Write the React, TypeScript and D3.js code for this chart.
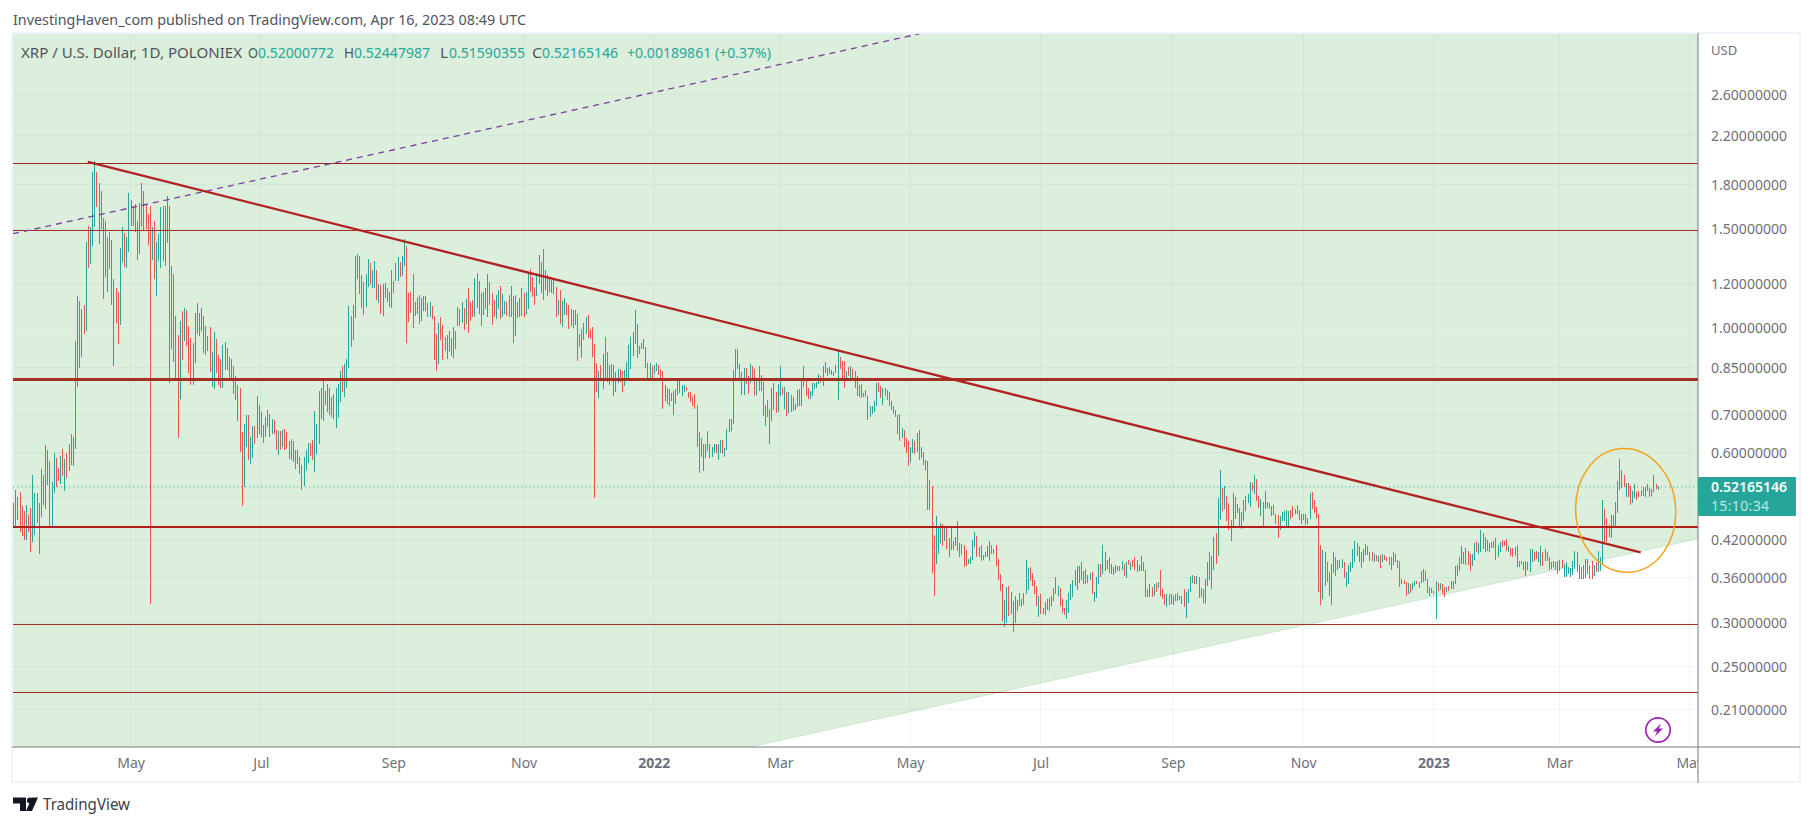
import React, { useEffect, useRef } from 'react';
import * as d3 from 'd3';

type Bar = [number, number, number]; // low, high, 1 = up day

// daily bars, one list per month
const mar21: Bar[] = [[.443,.489,1],[.445,.515,1],[.456,.501,1],[.433,.511,0],[.426,.483,0],[.420,.473,0],[.420,.485,1],[.433,.465,0],[.399,.479,0],[.416,.548,1],[.428,.509,1],[.450,.509,0],[.397,.489,0],[.462,.561,1],[.485,.548,0],[.477,.620,1],[.526,.607,1],[.444,.580,0],[.444,.532,1],[.509,.600,1],[.521,.588,0],[.535,.563,0],[.528,.593,1],[.545,.610,0],[.513,.586,1]];
const apr21: Bar[] = [[.541,.600,0],[.556,.622,1],[.570,.648,0],[.568,.640,1],[.609,.947,1],[.785,1.14,1],[.848,1.115,0],[.889,1.08,1],[.975,1.097,0],[.987,1.42,1],[1.28,1.52,0],[1.30,1.51,1],[1.40,1.89,1],[1.51,1.98,1],[1.64,1.89,0],[1.41,1.81,0],[1.50,1.75,0],[1.125,1.565,0],[1.23,1.55,0],[1.16,1.45,1],[1.27,1.48,0],[1.10,1.43,0],[.856,1.22,1],[1.02,1.175,0],[.936,1.16,0],[1.01,1.385,1],[1.31,1.51,1],[1.285,1.475,0],[1.28,1.45,1],[1.365,1.735,1]];
const may21: Bar[] = [[1.52,1.69,1],[1.52,1.65,0],[1.48,1.66,0],[1.32,1.55,0],[1.355,1.665,1],[1.51,1.81,0],[1.49,1.75,0],[1.50,1.66,0],[1.405,1.595,0],[.323,1.645,0],[1.32,1.51,1],[1.22,1.55,0],[1.14,1.42,1],[1.315,1.47,1],[1.28,1.64,1],[1.315,1.65,0],[1.29,1.65,1],[1.415,1.715,1],[.798,1.65,0],[.917,1.29,1],[.87,1.245,0],[.814,1.05,0],[.637,.971,0],[.747,1.03,1],[.877,1.07,0],[.948,1.085,1],[.928,1.075,0],[.832,1.008,0],[.791,.959,0],[.791,.94,1],[.866,1.062,1]];
const jun21: Bar[] = [[.975,1.105,0],[.967,1.062,1],[.987,1.085,1],[.902,1.05,0],[.895,1.008,0],[.91,.967,1],[.835,1.003,0],[.785,.906,1],[.778,.983,1],[.832,.955,0],[.791,.895,0],[.781,.881,0],[.781,.932,1],[.842,.944,1],[.842,.92,0],[.811,.888,0],[.811,.881,1],[.763,.855,0],[.744,.821,0],[.683,.791,1],[.603,.781,0],[.483,.653,0],[.522,.675,1],[.614,.70,1],[.582,.70,0],[.573,.64,1],[.588,.669,1],[.622,.669,0],[.638,.757,1],[.648,.729,1]];
const jul21: Bar[] = [[.64,.709,0],[.625,.672,0],[.64,.694,1],[.667,.714,1],[.64,.703,0],[.648,.689,1],[.648,.686,0],[.607,.659,0],[.595,.656,1],[.607,.656,0],[.614,.659,1],[.607,.661,0],[.609,.653,0],[.585,.63,1],[.582,.635,0],[.578,.63,0],[.561,.607,0],[.573,.607,1],[.55,.59,0],[.515,.57,0],[.524,.59,1],[.558,.607,1],[.575,.625,1],[.593,.625,0],[.582,.632,0],[.554,.711,1],[.597,.675,1],[.622,.771,1],[.689,.781,1],[.683,.811,1],[.729,.771,0]];
const aug21: Bar[] = [[.709,.795,0],[.70,.781,1],[.694,.753,0],[.689,.763,1],[.664,.781,1],[.692,.795,1],[.738,.838,1],[.768,.855,0],[.753,.863,1],[.781,.881,1],[.848,1.095,1],[.924,1.05,0],[.951,1.10,1],[1.04,1.34,1],[1.22,1.355,1],[1.15,1.34,0],[1.085,1.24,0],[1.055,1.205,1],[1.09,1.245,1],[1.18,1.325,1],[1.19,1.305,0],[1.175,1.265,1],[1.175,1.315,1],[1.12,1.265,0],[1.105,1.195,1],[1.06,1.19,0],[1.05,1.195,1],[1.13,1.20,0],[1.11,1.175,0],[1.09,1.16,0],[1.085,1.265,1]];
const sep21: Bar[] = [[1.155,1.21,1],[1.21,1.305,1],[1.21,1.335,1],[1.23,1.31,0],[1.235,1.34,1],[1.29,1.44,1],[.94,1.40,0],[1.025,1.155,0],[1.065,1.16,0],[1.0,1.245,0],[1.05,1.11,1],[1.06,1.135,1],[1.015,1.145,0],[1.03,1.13,1],[1.07,1.14,1],[1.07,1.14,0],[1.045,1.105,0],[1.045,1.11,1],[1.035,1.095,0],[.877,1.05,0],[.838,.975,0],[.863,1.02,1],[.951,1.045,0],[.877,1.012,0],[.91,.963,0],[.881,.971,1],[.906,.987,0],[.891,.959,0],[.884,1.003,1],[.917,.987,1]];
const oct21: Bar[] = [[1.008,1.09,1],[1.008,1.08,0],[1.02,1.11,1],[.991,1.085,0],[1.015,1.125,1],[.979,1.175,0],[1.03,1.11,0],[1.045,1.12,0],[1.045,1.225,1],[1.085,1.25,0],[1.06,1.21,1],[1.008,1.155,0],[1.055,1.16,1],[1.08,1.175,1],[1.045,1.245,1],[1.10,1.205,0],[1.012,1.155,0],[1.045,1.12,0],[1.035,1.145,1],[1.08,1.17,1],[1.035,1.185,0],[1.045,1.15,1],[1.06,1.115,1],[1.05,1.11,0],[1.045,1.145,1],[1.045,1.185,1],[.94,1.14,0],[.967,1.145,1],[1.04,1.11,1],[1.045,1.13,1],[1.05,1.175,1]];
const nov21: Bar[] = [[1.045,1.155,0],[1.06,1.16,1],[1.08,1.25,1],[1.16,1.27,0],[1.135,1.23,0],[1.10,1.18,0],[1.14,1.25,1],[1.195,1.345,1],[1.155,1.31,0],[1.12,1.38,0],[1.17,1.265,1],[1.14,1.24,0],[1.16,1.22,1],[1.155,1.215,1],[1.15,1.225,0],[1.045,1.18,0],[1.055,1.12,1],[1.015,1.17,0],[1.003,1.115,1],[1.055,1.13,1],[1.055,1.105,0],[.995,1.10,0],[1.008,1.08,1],[.999,1.075,0],[1.012,1.075,1],[.874,1.06,0],[.924,.975,1],[.884,.995,1],[.951,1.02,1],[.975,1.045,1]];
const dec21: Bar[] = [[.959,1.055,0],[.955,.995,0],[.888,1.003,0],[.499,.936,0],[.768,.866,0],[.75,.838,1],[.808,.859,0],[.778,.899,1],[.808,.963,0],[.801,.906,0],[.791,.859,1],[.814,.863,1],[.757,.859,0],[.768,.835,1],[.798,.845,1],[.801,.845,0],[.768,.838,0],[.788,.842,1],[.814,.87,1],[.814,.932,1],[.845,.963,1],[.891,.983,1],[.936,1.075,1],[.884,1.015,0],[.899,.928,1],[.917,.94,0],[.917,.955,1],[.848,.924,0],[.814,.866,0],[.808,.866,1],[.805,.855,0]];
const jan22: Bar[] = [[.828,.859,1],[.838,.866,1],[.825,.859,0],[.814,.845,0],[.717,.838,0],[.741,.791,1],[.732,.781,0],[.726,.778,0],[.741,.766,1],[.70,.771,0],[.732,.778,1],[.76,.808,1],[.766,.805,0],[.757,.791,1],[.768,.791,1],[.771,.785,0],[.75,.768,0],[.738,.768,0],[.726,.753,0],[.717,.763,0],[.615,.729,0],[.552,.653,0],[.59,.638,1],[.556,.622,0],[.588,.622,1],[.604,.656,1],[.588,.622,0],[.59,.614,1],[.60,.622,1],[.60,.622,0],[.582,.622,1]];
const feb22: Bar[] = [[.60,.632,1],[.597,.632,0],[.59,.611,1],[.607,.661,1],[.653,.689,1],[.656,.689,1],[.675,.842,1],[.811,.917,1],[.845,.917,0],[.811,.863,1],[.76,.835,0],[.76,.848,1],[.795,.848,0],[.763,.821,0],[.798,.863,1],[.811,.855,0],[.757,.845,0],[.76,.805,1],[.771,.855,1],[.771,.825,0],[.697,.801,0],[.669,.729,1],[.694,.744,0],[.622,.717,1],[.683,.781,1],[.714,.798,0],[.706,.768,0],[.709,.795,1]];
const mar22: Bar[] = [[.757,.855,1],[.76,.785,0],[.717,.785,1],[.697,.768,0],[.706,.768,1],[.709,.76,0],[.711,.753,1],[.714,.732,0],[.723,.775,1],[.726,.778,0],[.726,.814,1],[.785,.855,0],[.757,.808,0],[.747,.781,0],[.747,.771,1],[.757,.798,1],[.778,.798,1],[.781,.801,1],[.795,.828,1],[.798,.821,0],[.788,.855,1],[.832,.87,1],[.821,.848,1],[.828,.852,1],[.825,.842,1],[.821,.835,1],[.832,.859,1],[.744,.917,1],[.845,.888,0],[.811,.874,0],[.781,.874,0]];
const apr22: Bar[] = [[.811,.838,1],[.821,.852,0],[.811,.855,1],[.811,.845,0],[.781,.838,0],[.757,.821,0],[.753,.791,1],[.75,.795,0],[.753,.766,1],[.753,.775,0],[.686,.757,0],[.694,.726,1],[.703,.726,1],[.709,.741,1],[.726,.798,1],[.768,.801,0],[.75,.788,0],[.729,.781,1],[.757,.781,1],[.744,.775,0],[.726,.768,0],[.714,.741,0],[.703,.726,0],[.694,.714,0],[.648,.70,0],[.63,.703,0],[.638,.664,1],[.614,.659,0],[.60,.638,0],[.568,.63,0]];
const may22: Bar[] = [[.578,.614,1],[.60,.635,1],[.597,.63,0],[.602,.65,1],[.582,.659,0],[.588,.615,1],[.57,.602,0],[.558,.582,0],[.475,.58,0],[.475,.537,1],[.367,.524,0],[.334,.429,0],[.381,.464,1],[.397,.441,1],[.415,.45,1],[.41,.448,0],[.418,.441,1],[.405,.444,0],[.392,.424,1],[.403,.441,0],[.403,.418,1],[.41,.425,1],[.402,.454,0],[.392,.415,1],[.395,.413,0],[.376,.412,0],[.378,.403,0],[.381,.389,1],[.381,.391,1],[.387,.42,1],[.408,.434,1]];
const jun22: Bar[] = [[.392,.427,0],[.392,.408,1],[.386,.412,0],[.387,.395,1],[.391,.40,1],[.392,.41,1],[.386,.418,1],[.397,.412,0],[.397,.405,0],[.378,.412,0],[.357,.389,0],[.341,.365,0],[.302,.351,0],[.294,.328,1],[.299,.347,1],[.308,.348,0],[.31,.34,1],[.288,.327,0],[.299,.334,1],[.314,.328,0],[.32,.338,1],[.319,.33,0],[.322,.338,1],[.336,.387,1],[.342,.375,1],[.355,.376,0],[.348,.367,0],[.337,.357,0],[.32,.348,0],[.306,.334,1]];
const jul22: Bar[] = [[.31,.337,0],[.31,.318,1],[.309,.326,1],[.315,.33,1],[.314,.331,0],[.32,.334,1],[.327,.345,1],[.337,.361,0],[.334,.348,1],[.32,.345,0],[.312,.33,0],[.309,.318,0],[.304,.328,1],[.312,.338,1],[.328,.35,1],[.332,.357,1],[.348,.372,0],[.342,.378,1],[.352,.378,1],[.357,.383,0],[.35,.37,1],[.351,.373,0],[.352,.364,1],[.357,.367,1],[.336,.368,0],[.326,.34,1],[.331,.361,1],[.351,.381,1],[.361,.381,0],[.365,.412,1],[.37,.40,0]];
const aug22: Bar[] = [[.373,.387,0],[.367,.392,0],[.365,.381,1],[.364,.376,1],[.367,.379,1],[.37,.378,0],[.37,.378,0],[.372,.386,1],[.362,.381,0],[.359,.384,1],[.379,.387,0],[.372,.383,1],[.376,.387,0],[.372,.392,0],[.369,.387,1],[.37,.379,1],[.37,.394,1],[.37,.383,0],[.332,.372,0],[.332,.344,0],[.332,.35,1],[.332,.347,0],[.334,.35,1],[.34,.352,0],[.345,.354,1],[.334,.372,0],[.33,.344,0],[.322,.337,0],[.319,.336,1],[.322,.337,0],[.323,.336,1]];
const sep22: Bar[] = [[.322,.334,1],[.327,.336,0],[.327,.338,0],[.328,.334,1],[.323,.334,1],[.319,.344,0],[.305,.34,1],[.324,.344,1],[.34,.361,1],[.352,.364,1],[.35,.362,0],[.35,.362,1],[.331,.361,0],[.332,.345,1],[.324,.344,0],[.323,.358,1],[.348,.383,1],[.357,.399,0],[.344,.394,1],[.372,.425,1],[.381,.432,0],[.394,.499,1],[.458,.558,1],[.473,.519,0],[.477,.524,1],[.454,.503,0],[.437,.489,0],[.418,.456,1],[.444,.509,1],[.458,.501,0]];
const oct22: Bar[] = [[.469,.487,0],[.444,.479,0],[.439,.471,1],[.454,.495,1],[.473,.503,1],[.489,.507,1],[.481,.532,1],[.513,.53,0],[.507,.548,1],[.493,.539,0],[.479,.503,0],[.463,.497,1],[.443,.491,0],[.477,.513,1],[.479,.491,0],[.477,.489,0],[.463,.483,1],[.465,.485,0],[.448,.467,0],[.424,.465,0],[.437,.463,1],[.454,.471,1],[.454,.473,1],[.444,.475,1],[.444,.473,1],[.458,.475,0],[.461,.483,0],[.467,.477,1],[.467,.485,0],[.456,.475,1],[.448,.467,1]];
const nov22: Bar[] = [[.456,.467,0],[.446,.467,1],[.448,.46,0],[.458,.509,1],[.477,.511,0],[.469,.495,0],[.46,.481,0],[.34,.467,0],[.322,.412,0],[.33,.403,1],[.348,.399,0],[.354,.384,0],[.334,.369,0],[.322,.381,1],[.367,.399,1],[.362,.392,0],[.372,.387,1],[.375,.387,1],[.375,.389,1],[.359,.383,0],[.347,.369,1],[.351,.379,1],[.369,.384,1],[.375,.405,1],[.383,.418,1],[.394,.415,0],[.384,.41,1],[.375,.40,0],[.383,.405,1],[.395,.413,1]];
const dec22: Bar[] = [[.395,.41,0],[.386,.399,0],[.386,.399,0],[.384,.397,1],[.386,.395,0],[.383,.394,1],[.375,.395,0],[.383,.397,1],[.387,.395,0],[.386,.391,0],[.379,.391,0],[.372,.391,1],[.379,.399,1],[.384,.397,0],[.375,.387,0],[.347,.386,0],[.35,.358,1],[.35,.357,0],[.334,.354,0],[.337,.352,1],[.338,.351,0],[.342,.352,1],[.348,.355,1],[.35,.355,0],[.345,.354,0],[.352,.37,1],[.354,.373,1],[.355,.37,0],[.338,.358,0],[.334,.347,1],[.338,.345,0]];
const jan23: Bar[] = [[.337,.341,0],[.304,.355,1],[.341,.352,0],[.342,.352,1],[.336,.35,0],[.332,.347,0],[.34,.347,1],[.341,.348,0],[.344,.355,1],[.344,.355,1],[.35,.378,1],[.362,.379,1],[.37,.391,0],[.381,.41,1],[.381,.399,0],[.379,.407,1],[.379,.402,0],[.37,.397,0],[.378,.397,1],[.387,.415,1],[.40,.418,0],[.397,.415,1],[.40,.437,1],[.405,.432,0],[.399,.425,1],[.402,.42,0],[.40,.415,1],[.407,.417,0],[.407,.418,1],[.387,.424,0],[.391,.412,1]];
const feb23: Bar[] = [[.399,.417,1],[.408,.42,0],[.41,.418,0],[.402,.422,0],[.40,.41,1],[.394,.407,0],[.392,.407,0],[.394,.408,0],[.376,.412,0],[.376,.386,0],[.381,.386,0],[.372,.384,1],[.362,.386,1],[.372,.383,0],[.369,.405,1],[.383,.405,1],[.386,.40,0],[.389,.402,0],[.384,.40,1],[.378,.41,1],[.378,.40,0],[.386,.405,1],[.386,.399,0],[.372,.392,0],[.373,.384,1],[.376,.386,1],[.372,.384,0],[.365,.386,1]];
const mar23: Bar[] = [[.37,.387,1],[.375,.387,0],[.361,.381,1],[.361,.383,1],[.365,.376,1],[.361,.375,1],[.364,.386,1],[.373,.402,1],[.369,.399,0],[.358,.379,1],[.358,.376,0],[.358,.379,1],[.359,.389,1],[.365,.389,1],[.358,.379,0],[.358,.386,0],[.362,.379,1],[.369,.384,0],[.369,.402,1],[.37,.392,1],[.381,.495,1],[.416,.477,0],[.416,.46,0],[.425,.446,0],[.424,.465,1],[.444,.465,1],[.444,.491,1],[.469,.535,1],[.515,.585,1],[.519,.558,0],[.522,.548,0]];
const apr23: Bar[] = [[.501,.53,1],[.501,.53,0],[.485,.524,0],[.489,.513,1],[.499,.528,1],[.495,.511,0],[.501,.513,0],[.503,.515,1],[.503,.521,0],[.501,.521,1],[.513,.528,0],[.501,.519,0],[.503,.517,1],[.511,.548,1],[.517,.528,0],[.516,.524,1]];

const months: [string, Bar[]][] = [
  ['2021-03-07', mar21], ['2021-04-01', apr21], ['2021-05-01', may21], ['2021-06-01', jun21],
  ['2021-07-01', jul21], ['2021-08-01', aug21], ['2021-09-01', sep21], ['2021-10-01', oct21],
  ['2021-11-01', nov21], ['2021-12-01', dec21], ['2022-01-01', jan22], ['2022-02-01', feb22],
  ['2022-03-01', mar22], ['2022-04-01', apr22], ['2022-05-01', may22], ['2022-06-01', jun22],
  ['2022-07-01', jul22], ['2022-08-01', aug22], ['2022-09-01', sep22], ['2022-10-01', oct22],
  ['2022-11-01', nov22], ['2022-12-01', dec22], ['2023-01-01', jan23], ['2023-02-01', feb23],
  ['2023-03-01', mar23], ['2023-04-01', apr23],
];

const priceTicks = [2.6, 2.2, 1.8, 1.5, 1.2, 1.0, 0.85, 0.7, 0.6, 0.42, 0.36, 0.3, 0.25, 0.21];
const hiddenGridPrices = [0.5]; // label sits behind the last-price tag
const timeTicks = ['2021-05-01', '2021-07-01', '2021-09-01', '2021-11-01', '2022-01-01', '2022-03-01', '2022-05-01', '2022-07-01', '2022-09-01', '2022-11-01', '2023-01-01', '2023-03-01', '2023-05-01'];
const timeLabels = ['May', 'Jul', 'Sep', 'Nov', '2022', 'Mar', 'May', 'Jul', 'Sep', 'Nov', '2023', 'Mar', 'May'];

// drawn levels and trend lines: [price, stroke width, colour]
const levels: [number, number, string][] = [
  [1.96, 1, '#9c2a22'], [1.49, 1, '#a52a22'], [0.81, 3, '#a33020'],
  [0.443, 2, '#b71c1c'], [0.297, 1, '#a5301f'], [0.225, 1, '#a5301f'],
];
const downTrend: [string, number][] = [['2021-04-11', 1.973], ['2023-04-08', 0.399]];
const dashedTrend: [string, number][] = [['2021-03-07', 1.47], ['2022-05-07', 3.342]];
const supportEdge: [string, number][] = [['2022-02-15', 0.18], ['2023-05-05', 0.422]];
const ringCentre: [string, number] = ['2023-04-01', 0.474];
const lastPrice = 0.52165146;

const FONT = '"Noto Sans", "Open Sans", sans-serif';
const TEAL = '#26a69a';
const RED = '#ef5350';
const GREY = '#6e7079';

const W = 1813;
const H = 826;
const left = 13.1;
const right = 1698;
const top = 33;
const bottom = 747;
const panelRight = 1800;
const panelBottom = 782;

const d = (s: string) => new Date(s + 'T00:00:00Z');
const DAY = 86400000;

export default function App() {
  const ref = useRef<SVGSVGElement>(null);

  useEffect(() => {
    if (!ref.current) return;
    const svg = d3.select(ref.current);
    svg.selectAll('*').remove();

    const x = d3.scaleUtc().domain([d('2021-03-07'), d('2023-05-05')]).range([left, right + 0.3]);
    const y = d3.scaleLog().domain([3.342, 0.18]).range([top, bottom]);
    const snap = (v: number) => Math.round(v) + 0.5; // one device pixel per bar

    const rows = months.flatMap(([start, bars]) =>
      bars.map((b, i) => ({ date: new Date(+d(start) + i * DAY), low: b[0], high: b[1], up: b[2] === 1 }))
    );

    const defs = svg.append('defs');
    defs.append('clipPath').attr('id', 'plot')
      .append('rect').attr('x', left).attr('y', top).attr('width', right - left).attr('height', bottom - top);
    defs.append('clipPath').attr('id', 'timeClip')
      .append('rect').attr('x', left).attr('y', 0).attr('width', right - left).attr('height', panelBottom - bottom);

    const plot = svg.append('g').attr('clip-path', 'url(#plot)');

    // grid
    plot.selectAll('line.hgrid').data([...priceTicks, ...hiddenGridPrices]).join('line').attr('class', 'hgrid')
      .attr('x1', left).attr('x2', right).attr('y1', (v) => y(v)).attr('y2', (v) => y(v))
      .attr('stroke', '#f0f3fa').attr('stroke-width', 1);
    plot.selectAll('line.vgrid').data(timeTicks).join('line').attr('class', 'vgrid')
      .attr('x1', (t) => x(d(t))).attr('x2', (t) => x(d(t))).attr('y1', top).attr('y2', bottom)
      .attr('stroke', '#f0f3fa').attr('stroke-width', 1);

    // green zone above the rising support line
    const [s0, s1] = supportEdge;
    plot.append('path')
      .attr('d', `M${left},${top}L${right},${top}L${x(d(s1[0]))},${y(s1[1])}L${x(d(s0[0]))},${y(s0[1])}L${left},${bottom}Z`)
      .attr('fill', '#4caf50').attr('fill-opacity', 0.2);
    const line = d3.line<[string, number]>().x((p) => x(d(p[0]))).y((p) => y(p[1]));
    plot.append('path').attr('d', line(supportEdge)).attr('stroke', '#4caf50').attr('stroke-opacity', 0.2).attr('fill', 'none');

    // last price
    plot.append('line').attr('x1', left).attr('x2', right).attr('y1', y(lastPrice)).attr('y2', y(lastPrice))
      .attr('stroke', TEAL).attr('stroke-width', 1).attr('stroke-dasharray', '1 3');

    // daily bars
    plot.selectAll('line.bar').data(rows).join('line').attr('class', 'bar')
      .attr('x1', (r) => snap(x(r.date))).attr('x2', (r) => snap(x(r.date)))
      .attr('y1', (r) => y(r.high)).attr('y2', (r) => y(r.low))
      .attr('stroke', (r) => (r.up ? TEAL : RED)).attr('stroke-width', 1).attr('shape-rendering', 'crispEdges');

    // drawings
    plot.selectAll('line.level').data(levels).join('line').attr('class', 'level')
      .attr('x1', left).attr('x2', right).attr('y1', (l) => y(l[0])).attr('y2', (l) => y(l[0]))
      .attr('stroke', (l) => l[2]).attr('stroke-width', (l) => l[1]).attr('shape-rendering', 'crispEdges');
    plot.append('path').attr('d', line(dashedTrend)).attr('fill', 'none')
      .attr('stroke', '#7b3fa0').attr('stroke-width', 1.3).attr('stroke-dasharray', '6 5');
    plot.append('path').attr('d', line(downTrend)).attr('fill', 'none')
      .attr('stroke', '#b22222').attr('stroke-width', 2.3);
    plot.append('ellipse').attr('rx', 50).attr('ry', 62)
      .attr('transform', `translate(${x(d(ringCentre[0]))},${y(ringCentre[1])}) rotate(-4)`)
      .attr('fill', 'none').attr('stroke', '#f7a21b').attr('stroke-width', 1.5);

    // bolt badge
    const bolt = svg.append('g').attr('transform', 'translate(1658,730)');
    bolt.append('circle').attr('r', 12.2).attr('fill', '#fff').attr('stroke', '#9c27b0').attr('stroke-width', 1.7);
    bolt.append('path').attr('d', 'M3,-6.5L-5,1.5L-1,1.5L-3,6.5L5,-1.5L1,-1.5Z').attr('fill', '#9c27b0');

    // frame
    svg.append('rect').attr('x', 12).attr('y', 33).attr('width', panelRight - 12).attr('height', panelBottom - 33)
      .attr('fill', 'none').attr('stroke', '#f0f3fa').attr('stroke-width', 2);

    // price axis
    const yAxis = svg.append('g').attr('transform', `translate(${right},0)`)
      .call(d3.axisRight(y).tickValues(priceTicks).tickFormat((v) => d3.format('.8f')(+v)).tickSize(0).tickPadding(13) as any);
    yAxis.select('.domain').remove();
    yAxis.selectAll('text').attr('fill', GREY).attr('font-family', FONT).attr('font-size', 14).attr('dy', '0.35em').attr('textLength', 76);

    // time axis
    const xGroup = svg.append('g').attr('transform', `translate(0,${bottom})`).attr('clip-path', 'url(#timeClip)');
    xGroup.call(d3.axisBottom(x).tickValues(timeTicks.map(d)).tickFormat((_, i) => timeLabels[i]).tickSize(0).tickPadding(11) as any);
    xGroup.select('.domain').remove();
    xGroup.selectAll('text').attr('fill', GREY).attr('font-family', FONT).attr('font-size', 14)
      .attr('font-weight', (_, i) => (timeLabels[i].length === 4 ? 700 : 400));

    // axis lines
    svg.append('line').attr('x1', 12).attr('x2', panelRight).attr('y1', bottom).attr('y2', bottom).attr('stroke', '#787b86').attr('stroke-width', 1);
    svg.append('line').attr('x1', right).attr('x2', right).attr('y1', 33).attr('y2', panelBottom + 1).attr('stroke', '#787b86').attr('stroke-width', 1);

    // last price tag
    svg.append('rect').attr('x', right).attr('y', 477).attr('width', 98).attr('height', 39).attr('fill', TEAL).attr('rx', 1);
    svg.append('text').attr('x', 1711).attr('y', 492).text(d3.format('.8f')(lastPrice))
      .attr('fill', '#fff').attr('font-family', FONT).attr('font-size', 14).attr('font-weight', 600).attr('textLength', 76);
    svg.append('text').attr('x', 1711).attr('y', 511).text('15:10:34')
      .attr('fill', '#bfe6e1').attr('font-family', FONT).attr('font-size', 14).attr('textLength', 58);

    svg.append('text').attr('x', 1711).attr('y', 55).text('USD')
      .attr('fill', GREY).attr('font-family', FONT).attr('font-size', 13);

    // header and legend
    svg.append('text').attr('x', 13).attr('y', 25).text('InvestingHaven_com published on TradingView.com, Apr 16, 2023 08:49 UTC')
      .attr('fill', '#50535e').attr('font-family', FONT).attr('font-size', 14).attr('textLength', 513).attr('lengthAdjust', 'spacingAndGlyphs');
    const legend: [number, string, string, number][] = [
      [21, 'XRP / U.S. Dollar, 1D, POLONIEX', '#50535e', 221],
      [248, 'O', '#50535e', 10], [258, '0.52000772', TEAL, 76],
      [344, 'H', '#50535e', 10], [354, '0.52447987', TEAL, 76],
      [440, 'L', '#50535e', 8], [449, '0.51590355', TEAL, 76],
      [532, 'C', '#50535e', 10], [542, '0.52165146', TEAL, 76],
      [627, '+0.00189861 (+0.37%)', TEAL, 144],
    ];
    svg.selectAll('text.legend').data(legend).join('text').attr('class', 'legend')
      .attr('x', (l) => l[0]).attr('y', 58).text((l) => l[1])
      .attr('fill', (l) => l[2]).attr('font-family', FONT).attr('font-size', 14)
      .attr('textLength', (l) => l[3]).attr('lengthAdjust', 'spacingAndGlyphs');

    // TradingView mark
    svg.append('path').attr('d', 'M13,797.5H26V811H20V803.5H13Z').attr('fill', '#131722');
    svg.append('circle').attr('cx', 30).attr('cy', 800.5).attr('r', 3).attr('fill', '#131722');
    svg.append('path').attr('d', 'M32,797.5H38L32,811H26Z').attr('fill', '#131722');
    svg.append('text').attr('x', 43).attr('y', 810).text('TradingView')
      .attr('fill', '#3d4049').attr('font-family', FONT).attr('font-size', 16).attr('textLength', 87).attr('lengthAdjust', 'spacingAndGlyphs');
  }, []);

  return (
    <svg
      ref={ref}
      width={W}
      height={H}
      style={{ position: 'absolute', left: 0, top: 0, display: 'block', background: '#fff' }}
    />
  );
}
